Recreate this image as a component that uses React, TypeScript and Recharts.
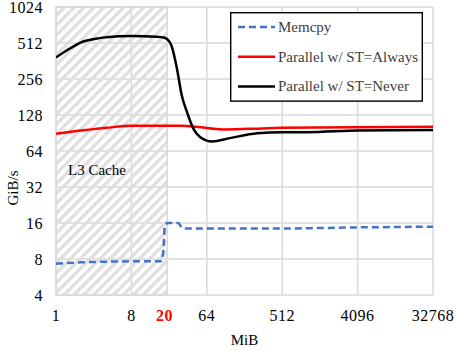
import React from 'react';
import {
  LineChart,
  Line,
  XAxis,
  YAxis,
  CartesianGrid,
  ReferenceArea,
  Legend,
} from 'recharts';

// buffer size (MiB) and bandwidth (GiB/s)
const memcpyMiB = [1, 2, 4, 8, 16, 18.4, 19.3, 20.2, 21.9, 28.9, 33.2, 64, 512, 4096, 32768];
const memcpyGiBs = [7.3, 7.5, 7.6, 7.65, 7.65, 7.7, 9.5, 15.4, 16.0, 16.0, 14.4, 14.4, 14.4, 14.7, 14.9];

const alwaysMiB = [1, 2, 3, 4, 8, 16, 32, 48, 100, 200, 512, 4096, 32768];
const alwaysGiBs = [89, 95, 98, 100, 104, 104, 104, 102, 97, 98, 100, 101, 102];

const neverMiB = [1, 1.5, 2, 3, 4, 8, 16, 20, 21.5, 24, 28, 32, 37, 44, 53, 74, 121, 256, 512, 1024, 4096, 32768];
const neverGiBs = [388, 465, 519, 555, 571, 585, 578, 567, 550, 492, 317, 188, 136, 99, 84, 77, 82, 90, 92, 92, 95, 96];

const xTicks = [1, 8, 20, 64, 512, 4096, 32768];
const xGrid = [1, 8, 64, 512, 4096, 32768];
const yTicks = [4, 8, 16, 32, 64, 128, 256, 512, 1024];
const l3CacheMiB = 21.5;

const toRows = (xs: number[], ys: number[]) => xs.map((x, i) => ({ x, y: ys[i] }));

const FONT = '"Liberation Serif", "Times New Roman", serif';
const GRID = '#d9d9d9';

const XTick = (props: any) => {
  const { x, y, payload } = props;
  const special = payload.value === 20;
  return (
    <text
      x={x}
      y={y}
      dy="0.71em"
      textAnchor="middle"
      fontFamily={FONT}
      fontSize={16}
      letterSpacing={0.5}
      fontWeight={special ? 'bold' : 'normal'}
      fill={special ? '#ff0000' : '#000'}
    >
      {payload.value}
    </text>
  );
};

const LegendBox = (props: any) => {
  const items = props.payload || [];
  return (
    <svg width={193} height={90} style={{ display: 'block' }}>
      <rect x={0.7} y={0.7} width={191.6} height={88.4} fill="#fff" stroke="#000" strokeWidth={1.4} />
      {items.map((it: any, i: number) => {
        const cy = 15 + i * 29.7;
        return (
          <g key={it.value}>
            <line
              x1={8}
              x2={45}
              y1={cy}
              y2={cy}
              stroke={it.color}
              strokeWidth={2.5}
              strokeDasharray={it.payload?.strokeDasharray}
            />
            <text x={48} y={cy + 5} fontFamily={FONT} fontSize={15} fill="#404040">
              {it.value}
            </text>
          </g>
        );
      })}
    </svg>
  );
};

export default function App() {
  return (
    <div style={{ position: 'absolute', left: 0, top: 0, background: '#fff' }}>
      <LineChart width={456} height={351} margin={{ top: 7, right: 23, bottom: 0, left: 0 }}>
        <defs>
          <pattern id="hatch" width={7} height={7} patternUnits="userSpaceOnUse" patternTransform="rotate(45)">
            <rect x={0} y={0} width={3.4} height={7} fill="#dfdfdf" />
          </pattern>
        </defs>
        <CartesianGrid stroke={GRID} strokeWidth={1.5} verticalValues={xGrid} horizontalValues={yTicks} />
        <ReferenceArea
          x1={1}
          x2={l3CacheMiB}
          y1={4}
          y2={1024}
          fill="url(#hatch)"
          fillOpacity={1}
          stroke={GRID}
          strokeWidth={1.5}
          label={(p: any) => (
            <text x={p.viewBox.x + 12} y={p.viewBox.y + 168} fontFamily={FONT} fontSize={15} fill="#000">
              L3 Cache
            </text>
          )}
        />
        <XAxis
          type="number"
          dataKey="x"
          scale="log"
          domain={[1, 32768]}
          ticks={xTicks}
          interval={0}
          height={56}
          axisLine={false}
          tickLine={false}
          tickSize={0}
          tickMargin={15}
          tick={<XTick />}
          allowDataOverflow
          label={(p: any) => (
            <text
              x={p.viewBox.x + p.viewBox.width / 2}
              y={p.viewBox.y + 50}
              textAnchor="middle"
              fontFamily={FONT}
              fontSize={15}
              fill="#000"
            >
              MiB
            </text>
          )}
        />
        <YAxis
          type="number"
          dataKey="y"
          scale="log"
          domain={[4, 1024]}
          ticks={yTicks}
          interval={0}
          width={56}
          axisLine={false}
          tickLine={false}
          tickSize={0}
          tickMargin={13}
          allowDataOverflow
          tick={{ fontFamily: FONT, fontSize: 16, fill: '#000', letterSpacing: 0.5 }}
          label={() => (
            <text
              x={13}
              y={188}
              textAnchor="middle"
              transform="rotate(-90, 13, 188)"
              dy="0.35em"
              fontFamily={FONT}
              fontSize={15}
              fill="#000"
            >
              GiB/s
            </text>
          )}
        />
        <Legend
          layout="vertical"
          verticalAlign="middle"
          align="center"
          content={<LegendBox />}
          wrapperStyle={{ left: 230, top: 12, width: 193, height: 90 }}
        />
        <Line
          name="Memcpy"
          data={toRows(memcpyMiB, memcpyGiBs)}
          dataKey="y"
          type="monotone"
          stroke="#4472c4"
          strokeWidth={2.5}
          strokeDasharray="7 4"
          dot={false}
          isAnimationActive={false}
        />
        <Line
          name="Parallel w/ ST=Always"
          data={toRows(alwaysMiB, alwaysGiBs)}
          dataKey="y"
          type="monotone"
          stroke="#ff0000"
          strokeWidth={2.5}
          dot={false}
          isAnimationActive={false}
        />
        <Line
          name="Parallel w/ ST=Never"
          data={toRows(neverMiB, neverGiBs)}
          dataKey="y"
          type="monotone"
          stroke="#000"
          strokeWidth={2.5}
          dot={false}
          isAnimationActive={false}
        />
      </LineChart>
    </div>
  );
}
